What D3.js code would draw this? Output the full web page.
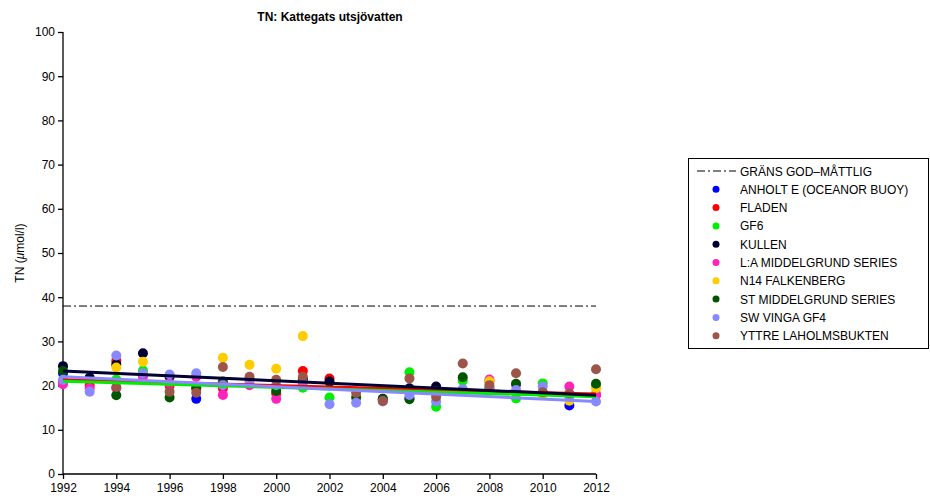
<!DOCTYPE html>
<html><head><meta charset="utf-8">
<script src="https://cdn.jsdelivr.net/npm/d3@7"></script>
<style>body{margin:0;background:#fff;font-family:"Liberation Sans",Arial,sans-serif;}</style>
</head><body><svg id="c" width="930" height="502"></svg>
<script>
const years = d3.range(1992, 2013);
const seriesNames = ["ANHOLT E (OCEANOR BUOY)","FLADEN","GF6","KULLEN","L:A MIDDELGRUND SERIES","N14 FALKENBERG","ST MIDDELGRUND SERIES","SW VINGA GF4","YTTRE LAHOLMSBUKTEN"];
const seriesColors = ["#0000ff","#ff0000","#00ee00","#000033","#ff22bb","#ffcc00","#005500","#8888ff","#9c5548"];
const N = null;
//                 1992 1993 1994 1995 1996 1997 1998 1999 2000 2001 2002 2003 2004 2005 2006 2007 2008 2009 2010 2011 2012
const anholt     = [22.8,N,   N,   N,   N,   17.0,N,   N,   N,   N,   N,   N,   N,   17.2,N,   N,   N,   N,   N,   15.5,N];
const fladen     = [20.9,20.0,25.6,N,   20.0,19.3,19.4,N,   18.2,23.3,21.6,N,   N,   N,   N,   N,   21.0,N,   N,   18.0,17.9];
const gf6        = [N,   N,   21.4,23.4,N,   N,   N,   N,   N,   19.5,17.3,N,   N,   23.0,15.2,21.1,N,   17.1,20.5,N,   20.0];
const kullen     = [24.4,21.8,24.8,27.3,22.0,N,   N,   N,   N,   21.5,20.9,N,   17.0,19.4,19.8,N,   N,   N,   N,   N,   N];
const laMiddel   = [20.3,19.4,19.4,22.0,20.5,22.0,17.9,20.1,17.0,N,   N,   N,   16.6,N,   N,   N,   21.4,20.2,N,   19.8,17.9];
const n14        = [N,   N,   24.1,25.4,N,   N,   26.3,24.7,23.8,31.2,N,   N,   N,   N,   N,   N,   21.0,N,   17.9,16.6,19.4];
const stMiddel   = [23.3,N,   17.8,N,   17.3,19.5,20.9,N,   18.8,21.2,N,   17.3,16.9,16.9,18.8,21.9,19.4,20.4,18.5,N,   20.4];
const swVinga    = [21.3,18.6,26.8,22.8,22.5,22.8,20.1,20.9,20.1,20.5,15.8,16.1,16.4,17.9,16.4,19.2,19.2,19.0,19.8,17.5,16.4];
const yttre      = [N,   N,   19.7,N,   18.6,18.4,24.2,22.0,21.3,22.0,N,   18.4,16.5,21.6,17.5,25.0,20.1,22.8,18.5,18.2,23.7];
const seriesValues = [anholt, fladen, gf6, kullen, laMiddel, n14, stMiddel, swVinga, yttre];
// trend lines: series index, value at 1992, value at 2012
const trendSeries = [1, 2, 3, 7];
const trendStart = [21.3, 21.0, 23.3, 22.0];
const trendEnd   = [18.1, 17.5, 17.8, 16.4];
const limitValue = 38;
const limitLabel = "GRÄNS GOD–MÅTTLIG";
const yTicks = d3.range(0, 101, 10);
const xTicks = d3.range(1992, 2013, 2);
const title = "TN: Kattegats utsjövatten";

const svg = d3.select("#c");
const x = d3.scaleLinear().domain([1992, 2012]).range([63, 596]);
const y = d3.scaleLinear().domain([0, 100]).range([474, 32]);

svg.append("text").attr("x", 330).attr("y", 21).attr("text-anchor", "middle")
  .attr("font-size", 12).attr("font-weight", "bold").text(title);

const ya = svg.append("g").attr("transform", "translate(63,0)")
  .call(d3.axisLeft(y).tickValues(yTicks).tickSize(5).tickPadding(3));
ya.selectAll("text").attr("font-size", 12).attr("font-family", "Liberation Sans, Arial, sans-serif").attr("fill", "#000");
ya.select(".domain").attr("d", "M0," + y(100) + "V" + y(0)).attr("stroke", "#000").attr("stroke-width", 1.3);
ya.selectAll(".tick line").attr("stroke", "#000").attr("stroke-width", 1.3);

const xa = svg.append("g").attr("transform", "translate(0,474)")
  .call(d3.axisBottom(x).tickValues(xTicks).tickFormat(d3.format("d")).tickSize(5).tickPadding(4));
xa.selectAll("text").attr("font-size", 12).attr("font-family", "Liberation Sans, Arial, sans-serif").attr("fill", "#000");
xa.select(".domain").attr("d", "M" + x(1992) + ",0H" + x(2012)).attr("stroke", "#000").attr("stroke-width", 1.3);
xa.selectAll(".tick line").attr("stroke", "#000").attr("stroke-width", 1.3);

const yl = svg.append("text").attr("transform", "translate(24,253) rotate(-90)")
  .attr("text-anchor", "middle").attr("font-size", 12);
yl.append("tspan").text("TN (");
yl.append("tspan").attr("font-style", "italic").text("μ");
yl.append("tspan").text("mol/l)");

svg.append("line").attr("x1", x(1992)).attr("x2", x(2012)).attr("y1", y(limitValue)).attr("y2", y(limitValue))
  .attr("stroke", "#000").attr("stroke-width", 1).attr("stroke-dasharray", "8,3,2,3");

seriesValues.forEach((vals, si) => {
  svg.append("g").selectAll("circle")
    .data(years.map((yr, i) => ({yr, v: vals[i]})).filter(d => d.v != null))
    .join("circle").attr("cx", d => x(d.yr)).attr("cy", d => y(d.v)).attr("r", 5)
    .attr("fill", seriesColors[si]);
});
trendSeries.forEach((si, k) => {
  svg.append("line").attr("x1", x(1992)).attr("x2", x(2012))
    .attr("y1", y(trendStart[k])).attr("y2", y(trendEnd[k]))
    .attr("stroke", seriesColors[si]).attr("stroke-width", 3);
});

const lg = svg.append("g");
lg.append("rect").attr("x", 688.5).attr("y", 158.5).attr("width", 240).attr("height", 190)
  .attr("fill", "#fff").attr("stroke", "#000").attr("stroke-width", 1);
const ly0 = 171, ldy = 18.3;
lg.append("line").attr("x1", 697).attr("x2", 736).attr("y1", ly0).attr("y2", ly0)
  .attr("stroke", "#000").attr("stroke-dasharray", "8,3,2,3");
lg.append("text").attr("x", 740).attr("y", ly0 + 4.5).attr("font-size", 12).text(limitLabel);
seriesNames.forEach((nm, i) => {
  const yy = ly0 + (i + 1) * ldy;
  lg.append("circle").attr("cx", 716).attr("cy", yy).attr("r", 3.5).attr("fill", seriesColors[i]);
  lg.append("text").attr("x", 740).attr("y", yy + 4.5).attr("font-size", 12).text(nm);
});
</script></body></html>
